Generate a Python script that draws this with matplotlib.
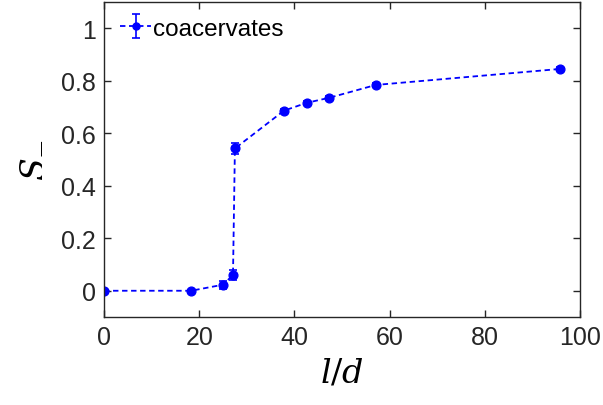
import matplotlib
matplotlib.use("Agg")
import matplotlib.pyplot as plt

x_ld = [0, 18.3, 25.0, 27.1, 27.5, 37.8, 42.6, 47.3, 57.1, 95.8]
s_minus = [0.0, 0.0, 0.023, 0.06, 0.542, 0.686, 0.716, 0.735, 0.784, 0.845]
s_err = [0.004, 0.004, 0.016, 0.02, 0.022, 0.008, 0.008, 0.008, 0.008, 0.006]
xticks = [0, 20, 40, 60, 80, 100]
yticks = [0, 0.2, 0.4, 0.6, 0.8, 1]
ytick_labels = ["0", "0.2", "0.4", "0.6", "0.8", "1"]

plt.rcParams['font.family'] = ['Liberation Sans', 'DejaVu Sans']
plt.rcParams['mathtext.fontset'] = 'dejavuserif'

fig = plt.figure(figsize=(6.03, 4.06), dpi=100)
ax = fig.add_axes([104/603, 1-318/406, (580-104)/603, (318-3)/406])

ax.errorbar(x_ld, s_minus, yerr=s_err, color='#0000ff', linestyle='--', linewidth=1.3,
            marker='o', markersize=6.3, capsize=3, elinewidth=1.2, capthick=1.2,
            dashes=(3, 2), label='coacervates')

ax.set_xlim(0, 100)
ax.set_ylim(-0.1, 1.1)
ax.set_xticks(xticks)
ax.set_yticks(yticks)
ax.set_yticklabels(ytick_labels)
ax.tick_params(direction='in', top=True, right=True, labelsize=18, colors='#262626',
               length=5, width=1, pad=6)
for sp in ax.spines.values():
    sp.set_color('#262626')
    sp.set_linewidth(1)

ax.set_xlabel(r'$l/d$', fontsize=24, labelpad=6)
ax.set_ylabel(r'$S_{-}$', fontsize=24, labelpad=10)

leg = ax.legend(loc='upper left', frameon=False, fontsize=17.5, handlelength=1.3,
                handletextpad=0.05, borderaxespad=0.25, bbox_to_anchor=(0.0, 1.0),
                markerscale=0.8)

fig.savefig('out.png', dpi=100)
